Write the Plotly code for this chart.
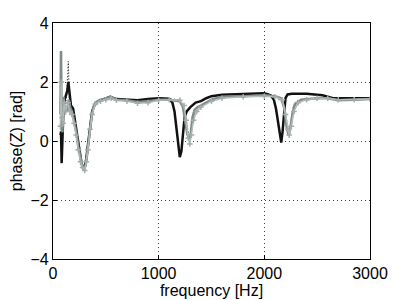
import plotly.graph_objects as go

# black solid: model 1
freq_a = [70, 76, 82, 90, 100, 110, 120, 135, 145, 155, 170, 190, 210, 230, 250, 270, 285, 300, 315,
          330, 350, 370, 390, 430, 480, 540, 600, 700, 800, 900, 1000, 1100, 1130, 1150, 1165, 1180,
          1200, 1215, 1230, 1245, 1265, 1300, 1350, 1400, 1450, 1500, 1600, 1700, 1800, 1900, 2000,
          2060, 2090, 2110, 2130, 2150, 2160, 2172, 2185, 2200, 2220, 2260, 2400, 2550, 2650, 2800, 3000]
phase_a = [0.2, 0.3, -0.75, 0.6, 1.2, 1.4, 1.5, 1.7, 2.0, 1.6, 1.2, 1.1, 0.6, 0.1, -0.3, -0.75, -0.9, -0.9, -0.6,
           -0.2, 0.5, 1.0, 1.2, 1.35, 1.42, 1.5, 1.42, 1.4, 1.38, 1.42, 1.45, 1.43, 1.3, 1.0, 0.5, 0.0,
           -0.55, -0.35, 0.3, 0.8, 1.0, 1.15, 1.3, 1.35, 1.45, 1.52, 1.57, 1.58, 1.6, 1.6, 1.62,
           1.55, 1.4, 1.1, 0.6, 0.1, -0.05, 0.3, 1.0, 1.45, 1.58, 1.6, 1.6, 1.55, 1.45, 1.45, 1.45]

# gray solid: model 2
freq_b = [70, 76, 82, 90, 100, 110, 120, 135, 150, 165, 180, 200, 220, 240, 260, 280, 295, 310, 325,
          340, 360, 380, 400, 450, 500, 540, 600, 700, 800, 900, 1000, 1100, 1200, 1230, 1250, 1270,
          1290, 1305, 1320, 1340, 1370, 1400, 1500, 1600, 1800, 2000, 2100, 2160, 2190, 2210, 2230,
          2245, 2265, 2290, 2350, 2500, 2600, 2700, 2850, 3000]
phase_b = [0.9, 3.05, 0.4, 0.3, 1.5, 0.9, 1.2, 1.0, 1.4, 1.1, 1.0, 0.7, 0.3, -0.2, -0.6, -0.9, -0.95, -0.8, -0.4,
           0.1, 0.7, 1.1, 1.3, 1.4, 1.42, 1.5, 1.4, 1.38, 1.32, 1.35, 1.4, 1.4, 1.35, 1.15, 0.7, 0.25,
           0.05, 0.3, 0.8, 1.05, 1.15, 1.2, 1.4, 1.5, 1.52, 1.55, 1.52, 1.45, 1.1, 0.5, 0.2,
           0.4, 0.9, 1.25, 1.4, 1.45, 1.45, 1.38, 1.4, 1.42]

# light gray markers: measurement
freq_c = [70, 78, 85, 95, 105, 120, 140, 160, 180, 200, 220, 240, 260, 280, 300, 315, 330, 350,
          370, 400, 450, 500, 550, 600, 700, 800, 900, 1000, 1100, 1200, 1240, 1260, 1280, 1295,
          1310, 1330, 1360, 1400, 1500, 1600, 1800, 2000, 2100, 2170, 2200, 2220, 2235, 2255,
          2280, 2320, 2400, 2500, 2600, 2700, 2850, 3000]
phase_c = [0.5, 2.0, 0.8, 0.6, 1.3, 1.0, 1.3, 1.0, 0.9, 0.6, 0.2, -0.3, -0.7, -0.9, -1.0, -0.7, -0.3, 0.4,
           0.9, 1.25, 1.35, 1.4, 1.45, 1.38, 1.35, 1.28, 1.3, 1.38, 1.4, 1.38, 1.2, 0.7, 0.1, -0.1,
           0.2, 0.7, 1.0, 1.15, 1.35, 1.45, 1.5, 1.52, 1.5, 1.4, 0.9, 0.4, 0.2, 0.5,
           1.0, 1.3, 1.4, 1.45, 1.45, 1.4, 1.4, 1.42]

# black dotted: model 3
freq_d = [70, 80, 90, 100, 115, 130, 145, 155, 170, 190, 210, 230, 250, 270, 290, 305, 320, 340,
          360, 380, 400, 450, 500, 600, 700, 800, 900, 1000, 1100, 1200, 1250, 1275, 1295,
          1310, 1330, 1360, 1400, 1500, 1600, 1800, 2000, 2100, 2180, 2210, 2230, 2250, 2270,
          2300, 2400, 2500, 2600, 2700, 2850, 3000]
phase_d = [0.3, 1.7, 0.6, 1.3, 1.1, 1.6, 2.7, 1.3, 1.0, 0.8, 0.4, -0.1, -0.5, -0.85, -0.95, -0.8, -0.4, 0.2,
           0.8, 1.1, 1.3, 1.4, 1.42, 1.4, 1.38, 1.33, 1.35, 1.4, 1.42, 1.4, 1.0, 0.4, 0.1,
           0.4, 0.85, 1.1, 1.2, 1.4, 1.5, 1.52, 1.55, 1.52, 1.3, 0.7, 0.3, 0.6, 1.1,
           1.35, 1.42, 1.45, 1.45, 1.4, 1.42, 1.42]

x_ticks = [0, 1000, 2000, 3000]
y_ticks = [-4, -2, 0, 2, 4]

fig = go.Figure()
fig.add_trace(go.Scatter(x=freq_a, y=phase_a, mode="lines",
                         line=dict(color="#111111", width=2.5)))
fig.add_trace(go.Scatter(x=freq_d, y=phase_d, mode="lines",
                         line=dict(color="#222222", width=1.2, dash="1px,2px")))
fig.add_trace(go.Scatter(x=freq_b, y=phase_b, mode="lines",
                         line=dict(color="#7f8b8b", width=2.5)))
fig.add_trace(go.Scatter(x=freq_c, y=phase_c, mode="lines+markers",
                         line=dict(color="#b4bcbc", width=1.5),
                         marker=dict(color="#a4acac", size=4, symbol="cross-thin",
                                     line=dict(color="#a4acac", width=1.5))))

axis_common = dict(
    showline=True, mirror=True, linecolor="black", linewidth=1.2,
    ticks="inside", ticklen=4, tickcolor="black",
    showgrid=True, gridcolor="#444444", gridwidth=1, griddash="1px,3px",
    zeroline=False, automargin=False,
    tickfont=dict(size=16, color="black"),
    title_font=dict(size=16, color="black"),
)

# page body has an 8px margin, so the figure is shrunk to fit the 409x300 window
fig.update_layout(
    width=401, height=292,
    paper_bgcolor="white", plot_bgcolor="white",
    showlegend=False,
    font=dict(family="Liberation Sans, Arial, sans-serif", color="black"),
    margin=dict(l=45, r=39, t=15, b=41),
    xaxis=dict(range=[0, 3000], tickvals=x_ticks, title=dict(text="frequency [Hz]", standoff=0),
               **axis_common),
    yaxis=dict(range=[-4, 4], tickvals=y_ticks, title=dict(text="phase(Z) [rad]", standoff=4),
               **axis_common),
)

fig.write_html("out.html")
